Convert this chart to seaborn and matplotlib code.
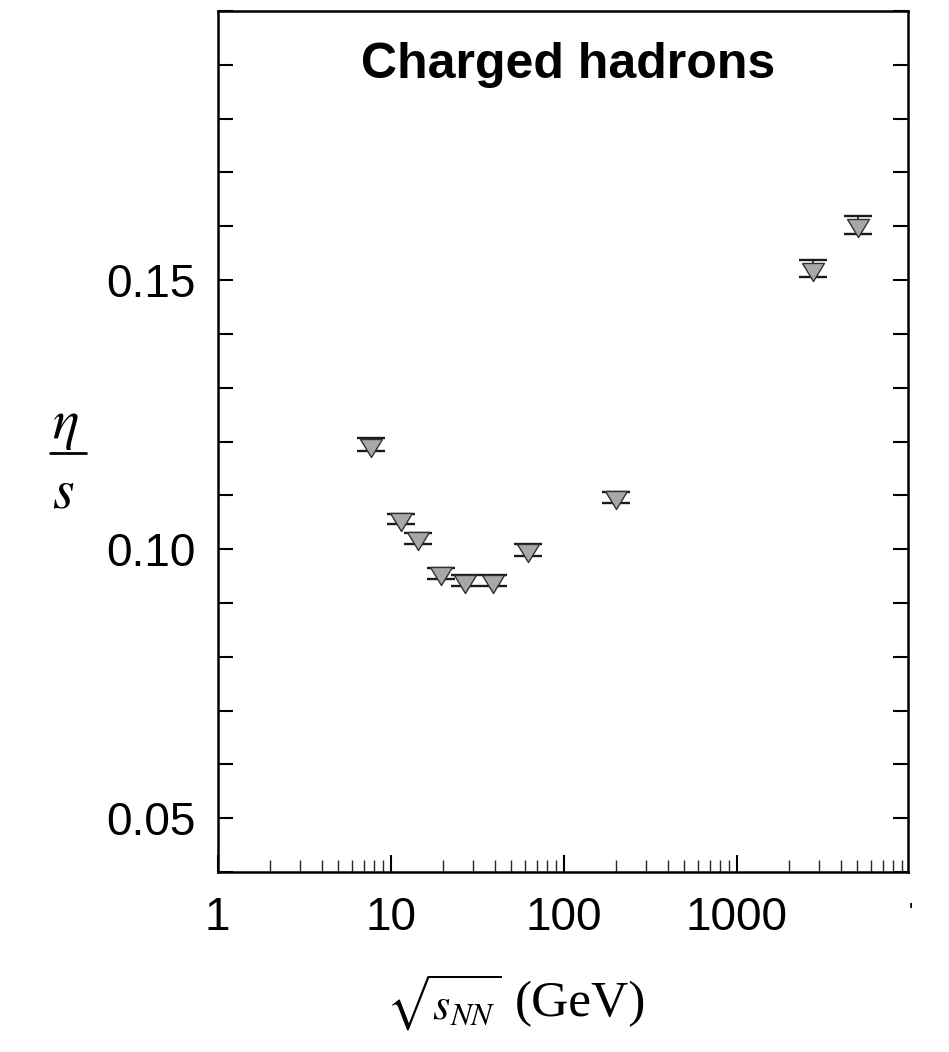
import numpy as np
import pandas as pd
import matplotlib
matplotlib.use("Agg")
import matplotlib.pyplot as plt
import seaborn as sns
from matplotlib.lines import Line2D
from matplotlib.ticker import FixedLocator, LogLocator, MultipleLocator, NullFormatter, FixedFormatter
from matplotlib.markers import MarkerStyle

# ---- data ----
energies = [7.7, 11.5, 14.5, 19.6, 27, 39, 62.4, 200, 2760, 5020]
eta_s = [0.1194, 0.1056, 0.1020, 0.0955, 0.0941, 0.0941, 0.0999, 0.1096, 0.1521, 0.1602]
eta_s_err = [0.0012, 0.0010, 0.0010, 0.0010, 0.0010, 0.0010, 0.0011, 0.0011, 0.0016, 0.0017]

x_tick_vals = [1, 10, 100, 1000]
x_tick_labels = ["1", "10", "100", "1000"]
y_tick_vals = [0.05, 0.10, 0.15]
y_tick_labels = ["0.05", "0.10", "0.15"]

title_text = "Charged hadrons"
xlabel_math = r"$\sqrt{s_{NN}}$"
xlabel_unit = "(GeV)"
ylabel_num = r"$\eta$"
ylabel_den = r"$s$"

# ---- style ----
sns.set_theme(style="ticks")
plt.rcParams["font.family"] = ["Liberation Sans", "DejaVu Sans"]
plt.rcParams["mathtext.fontset"] = "stix"

W, H = 949, 1052
fig = plt.figure(figsize=(W / 100, H / 100), dpi=100)
fig.patch.set_facecolor("white")
left, right, top, bottom = 217.5, 908, 11, 872
ax = fig.add_axes([left / W, 1 - bottom / H, (right - left) / W, (bottom - top) / H])
ax.set_facecolor("white")

df = pd.DataFrame({"energy": energies, "eta_s": eta_s, "err": eta_s_err})

ax.set_xscale("log")
ax.errorbar(df["energy"], df["eta_s"], yerr=df["err"], fmt="none",
            ecolor="#1a1a1a", elinewidth=1.2, capsize=9.8, capthick=1.7, zorder=2)

tri = MarkerStyle([(-1, 0.55), (1, 0.55), (0, -1.1), (-1, 0.55)])
sns.scatterplot(data=df, x="energy", y="eta_s", marker=tri, s=300,
                color="#a8a8a8", edgecolor="#303030", linewidth=1.0,
                ax=ax, zorder=3, legend=False)

ax.set_xlim(1, 9800)
ax.set_ylim(0.04, 0.20)

ax.xaxis.set_major_locator(FixedLocator(x_tick_vals))
ax.xaxis.set_major_formatter(FixedFormatter(x_tick_labels))
ax.xaxis.set_minor_locator(LogLocator(base=10, subs=np.arange(2, 10), numticks=20))
ax.xaxis.set_minor_formatter(NullFormatter())

ax.yaxis.set_major_locator(FixedLocator(y_tick_vals))
ax.yaxis.set_major_formatter(FixedFormatter(y_tick_labels))
ax.yaxis.set_minor_locator(MultipleLocator(0.01))
ax.yaxis.set_minor_formatter(NullFormatter())

ax.tick_params(axis="x", which="major", direction="in", length=12, width=1.5,
               bottom=True, top=False, labelsize=33, pad=17, colors="black")
ax.tick_params(axis="x", which="minor", direction="in", length=9, width=1.0,
               bottom=True, top=False)
ax.tick_params(axis="y", which="both", direction="in", length=11, width=1.5,
               left=True, right=True, labelsize=33, pad=16, colors="black")

for sp in ax.spines.values():
    sp.set_visible(True)
    sp.set_linewidth(1.8)
    sp.set_color("black")

ax.set_xlabel("")
ax.set_ylabel("")

ax.text(0.508, 0.937, title_text, transform=ax.transAxes, ha="center", va="center",
        fontsize=36, fontweight="bold", color="black")

# y label as stacked fraction  eta / s
fig.text(65 / W, 1 - 425.5 / H, ylabel_num, fontsize=40, ha="center", va="center", color="black")
fig.add_artist(Line2D([50 / W, 86 / W], [1 - 452.7 / H, 1 - 452.7 / H],
                      transform=fig.transFigure, color="black", lw=2.0))
fig.text(63.5 / W, 1 - 493 / H, ylabel_den, fontsize=40, ha="center", va="center", color="black")

# x label: sqrt(s_NN) (GeV)
fig.text(444 / W, 1 - 1003 / H, xlabel_math, fontsize=32, ha="center", va="center", color="black")
fig.text(515 / W, 1 - 1004 / H, xlabel_unit, fontsize=37, ha="left", va="center",
         color="black", family=["Liberation Serif", "DejaVu Serif"])
fig.text(911 / W, 1 - 912 / H, "'", fontsize=16, ha="center", va="center", color="black")

fig.savefig("out.png", dpi=100)
